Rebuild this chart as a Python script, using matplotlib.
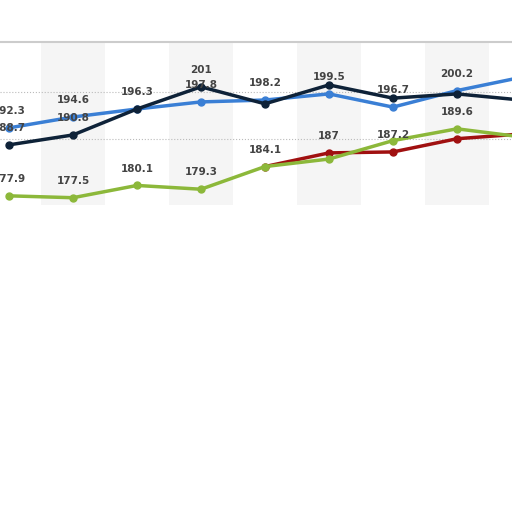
import matplotlib
matplotlib.use("Agg")
import matplotlib.pyplot as plt

x = [0, 1, 2, 3, 4, 5, 6, 7, 8]
blue = [192.3, 194.6, 196.3, 197.8, 198.2, 199.5, 196.7, 200.2, 203.0]
dark = [188.7, 190.8, 196.3, 201.0, 197.4, 201.4, 198.6, 199.5, 198.2]
green = [177.9, 177.5, 180.1, 179.3, 184.1, 185.7, 189.6, 192.1, 190.4]
red_x = [4, 5, 6, 7, 8]
red = [184.1, 187.0, 187.2, 190.0, 191.0]

blue_labels = {0: "192.3", 1: "194.6", 2: "196.3", 3: "197.8", 4: "198.2", 5: "199.5", 6: "196.7", 7: "200.2"}
dark_labels = {0: "188.7", 1: "190.8", 3: "201"}
green_labels = {0: "177.9", 1: "177.5", 2: "180.1", 3: "179.3", 4: "184.1", 7: "189.6"}
red_labels = {5: "187", 6: "187.2"}

fig = plt.figure(figsize=(5.12, 5.12), dpi=100)
ax = fig.add_axes([0, 0.6, 1, 0.318])
ax.set_xlim(-0.14, 7.86)
ax.set_ylim(176, 210.5)
for i in range(1, 9, 2):
    ax.axvspan(i - 0.5, i + 0.5, color="#f5f5f5", zorder=0, lw=0)
for g in (190, 200):
    ax.axhline(g, color="#bbbbbb", ls=":", lw=0.8, zorder=1)

kw = dict(lw=2.5, marker="o", ms=5, zorder=3)
ax.plot(red_x, red, color="#a01010", **kw)
ax.plot(x, green, color="#8cb83a", **kw)
ax.plot(x, blue, color="#3a7fd5", **kw)
ax.plot(x, dark, color="#0e2238", **kw)

def lab(d, xs, ys):
    for i, t in d.items():
        ax.annotate(t, (xs[i], ys[i]), xytext=(0, 10), textcoords="offset points",
                    ha="center", fontsize=7.5, color="#444444", fontweight="bold", zorder=4)

lab(blue_labels, x, blue)
lab(dark_labels, x, dark)
lab(green_labels, x, green)
lab({k: v for k, v in red_labels.items()}, x, [None] * 4 + red)

for s in ("left", "right", "bottom"):
    ax.spines[s].set_visible(False)
ax.spines["top"].set_color("#cccccc")
ax.spines["top"].set_linewidth(1.5)
ax.set_xticks([])
ax.set_yticks([])
fig.savefig("out.png", dpi=100)
